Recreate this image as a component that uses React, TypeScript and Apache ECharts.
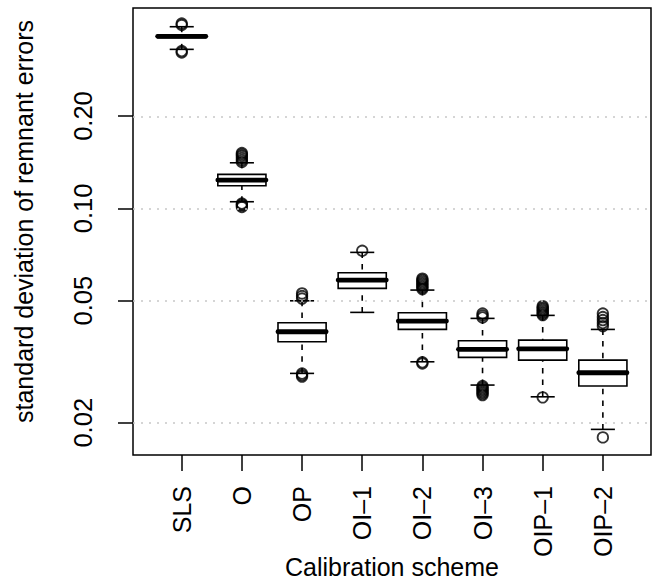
import React, { useEffect, useRef } from "react";
import * as echarts from "echarts";

const categories = ["SLS", "O", "OP", "OI–1", "OI–2", "OI–3", "OIP–1", "OIP–2"];
const categoryPositions = [1, 2, 3, 4, 5, 6, 7, 8];

// [lower whisker, Q1, median, Q3, upper whisker]
const boxStats = [
  [0.3299, 0.36, 0.3638, 0.3673, 0.391],
  [0.1051, 0.1185, 0.1237, 0.1291, 0.1408],
  [0.02897, 0.03673, 0.0396, 0.04236, 0.04996],
  [0.0458, 0.05483, 0.05837, 0.06166, 0.07186],
  [0.03161, 0.0403, 0.04291, 0.04567, 0.05415],
  [0.02654, 0.03267, 0.0347, 0.037, 0.04378],
  [0.0243, 0.03201, 0.03485, 0.0372, 0.04478],
  [0.01903, 0.02634, 0.02911, 0.03201, 0.0403],
];

const outliers = [
  [0.4005, 0.396, 0.3257, 0.3221],
  [0.1515, 0.1498, 0.1481, 0.1459, 0.1437, 0.1416, 0.1037, 0.1029, 0.1021, 0.101],
  [0.0528, 0.05176, 0.0508, 0.02894, 0.0286, 0.02829],
  [0.07273],
  [0.059, 0.05837, 0.05771, 0.05706, 0.05642, 0.05579, 0.05516, 0.05455, 0.0315, 0.0312],
  [0.0454, 0.04473, 0.04407, 0.02634, 0.02604, 0.02575, 0.02546, 0.02518, 0.0249, 0.02462],
  [0.048, 0.04749, 0.04695, 0.04642, 0.0459, 0.0454, 0.04488, 0.0242],
  [0.0454, 0.04421, 0.04323, 0.04229, 0.04132, 0.01792],
];

const yTicks = [0.02, 0.05, 0.1, 0.2];
const yTickLabels = ["0.02", "0.05", "0.10", "0.20"];
const yRange = [0.0157, 0.45];
const xRange = [0.19, 8.8];
const yTitle = "standard deviation of remnant errors";
const xTitle = "Calibration scheme";

const FONT = "'Liberation Sans', Arial, Helvetica, sans-serif";
const L = (v: number) => Math.log10(v);

export default function App() {
  const ref = useRef<HTMLDivElement>(null);
  useEffect(() => {
    if (!ref.current) return;
    const chart = echarts.init(ref.current, null, { renderer: "svg" });
    const boxData = boxStats.map((s, i) => [categoryPositions[i], ...s.map(L)]);
    const outlierData: number[][] = [];
    outliers.forEach((arr, i) => arr.forEach((v) => outlierData.push([categoryPositions[i], L(v)])));
    const tickLogs = yTicks.map(L);

    chart.setOption({
      animation: false,
      backgroundColor: "#ffffff",
      textStyle: { fontFamily: FONT },
      grid: {
        left: 133,
        top: 8,
        width: 518,
        height: 447,
        show: true,
        borderColor: "#000",
        borderWidth: 1.5,
        backgroundColor: "transparent",
        containLabel: false,
        outerBoundsMode: "none",
      },
      graphic: [
        {
          type: "text",
          x: 24,
          y: 221.5,
          rotation: Math.PI / 2,
          style: {
            text: yTitle,
            fontSize: 25,
            fontFamily: FONT,
            fill: "#000",
            textAlign: "center",
            textVerticalAlign: "middle",
          },
        },
      ],
      xAxis: {
        type: "value",
        min: xRange[0],
        max: xRange[1],
        axisLine: { show: false },
        splitLine: { show: false },
        axisTick: {
          show: true,
          length: 16,
          lineStyle: { color: "#000", width: 1.5 },
          customValues: categoryPositions,
        },
        axisLabel: {
          customValues: categoryPositions,
          rotate: 90,
          margin: 31,
          fontSize: 25,
          color: "#000",
          fontFamily: FONT,
          formatter: (v: number) => categories[Math.round(v) - 1] ?? "",
        },
        name: xTitle,
        nameLocation: "middle",
        nameGap: 99,
        nameMoveOverlap: false,
        nameTextStyle: { fontSize: 25, color: "#000", fontFamily: FONT },
      },
      yAxis: {
        type: "value",
        min: L(yRange[0]),
        max: L(yRange[1]),
        axisLine: { show: false },
        splitLine: { show: false },
        axisTick: {
          show: true,
          length: 15,
          lineStyle: { color: "#000", width: 1.5 },
          customValues: tickLogs,
        },
        axisLabel: {
          customValues: tickLogs,
          rotate: 90,
          margin: 37,
          fontSize: 25.5,
          color: "#000",
          fontFamily: FONT,
          formatter: (v: number) => {
            let best = 0;
            tickLogs.forEach((t, i) => {
              if (Math.abs(t - v) < Math.abs(tickLogs[best] - v)) best = i;
            });
            return yTickLabels[best];
          },
        },
      },
      series: [
        {
          type: "line",
          data: [],
          silent: true,
          z: 1,
          markLine: {
            silent: true,
            symbol: ["none", "none"],
            label: { show: false },
            lineStyle: { color: "#c8c8c8", width: 1.5, type: [2, 6] },
            data: tickLogs.map((t) => ({ yAxis: t })),
          },
        },
        {
          type: "custom",
          z: 3,
          data: boxData,
          renderItem: (params: any, api: any) => {
            const x = api.value(0);
            const lo = api.coord([x, api.value(1)]);
            const q1 = api.coord([x, api.value(2)]);
            const med = api.coord([x, api.value(3)]);
            const q3 = api.coord([x, api.value(4)]);
            const hi = api.coord([x, api.value(5)]);
            const w = api.size([0.8, 0])[0];
            const cx = lo[0];
            const thin = { stroke: "#000", lineWidth: 1.6, fill: "none" };
            const dashed = { ...thin, lineDash: [5.5, 6.2] };
            return {
              type: "group",
              children: [
                { type: "line", shape: { x1: cx, y1: hi[1], x2: cx, y2: q3[1] }, style: dashed },
                { type: "line", shape: { x1: cx, y1: lo[1], x2: cx, y2: q1[1] }, style: dashed },
                { type: "line", shape: { x1: cx - w / 4, y1: hi[1], x2: cx + w / 4, y2: hi[1] }, style: thin },
                { type: "line", shape: { x1: cx - w / 4, y1: lo[1], x2: cx + w / 4, y2: lo[1] }, style: thin },
                {
                  type: "rect",
                  shape: { x: cx - w / 2, y: q3[1], width: w, height: q1[1] - q3[1] },
                  style: { stroke: "#000", lineWidth: 1.6, fill: "#fff" },
                },
                {
                  type: "line",
                  shape: { x1: cx - w / 2, y1: med[1], x2: cx + w / 2, y2: med[1] },
                  style: { stroke: "#000", lineWidth: 4.8, lineCap: "round" },
                },
              ],
            };
          },
        },
        {
          type: "scatter",
          z: 4,
          data: outlierData,
          symbol: "circle",
          symbolSize: 10.5,
          itemStyle: { color: "rgba(0,0,0,0)", borderColor: "#000", borderWidth: 1.8 },
        },
      ],
    });
    return () => chart.dispose();
  }, []);
  return (
    <div
      ref={ref}
      style={{ position: "absolute", left: 0, top: 0, width: 653, height: 579 }}
    />
  );
}
